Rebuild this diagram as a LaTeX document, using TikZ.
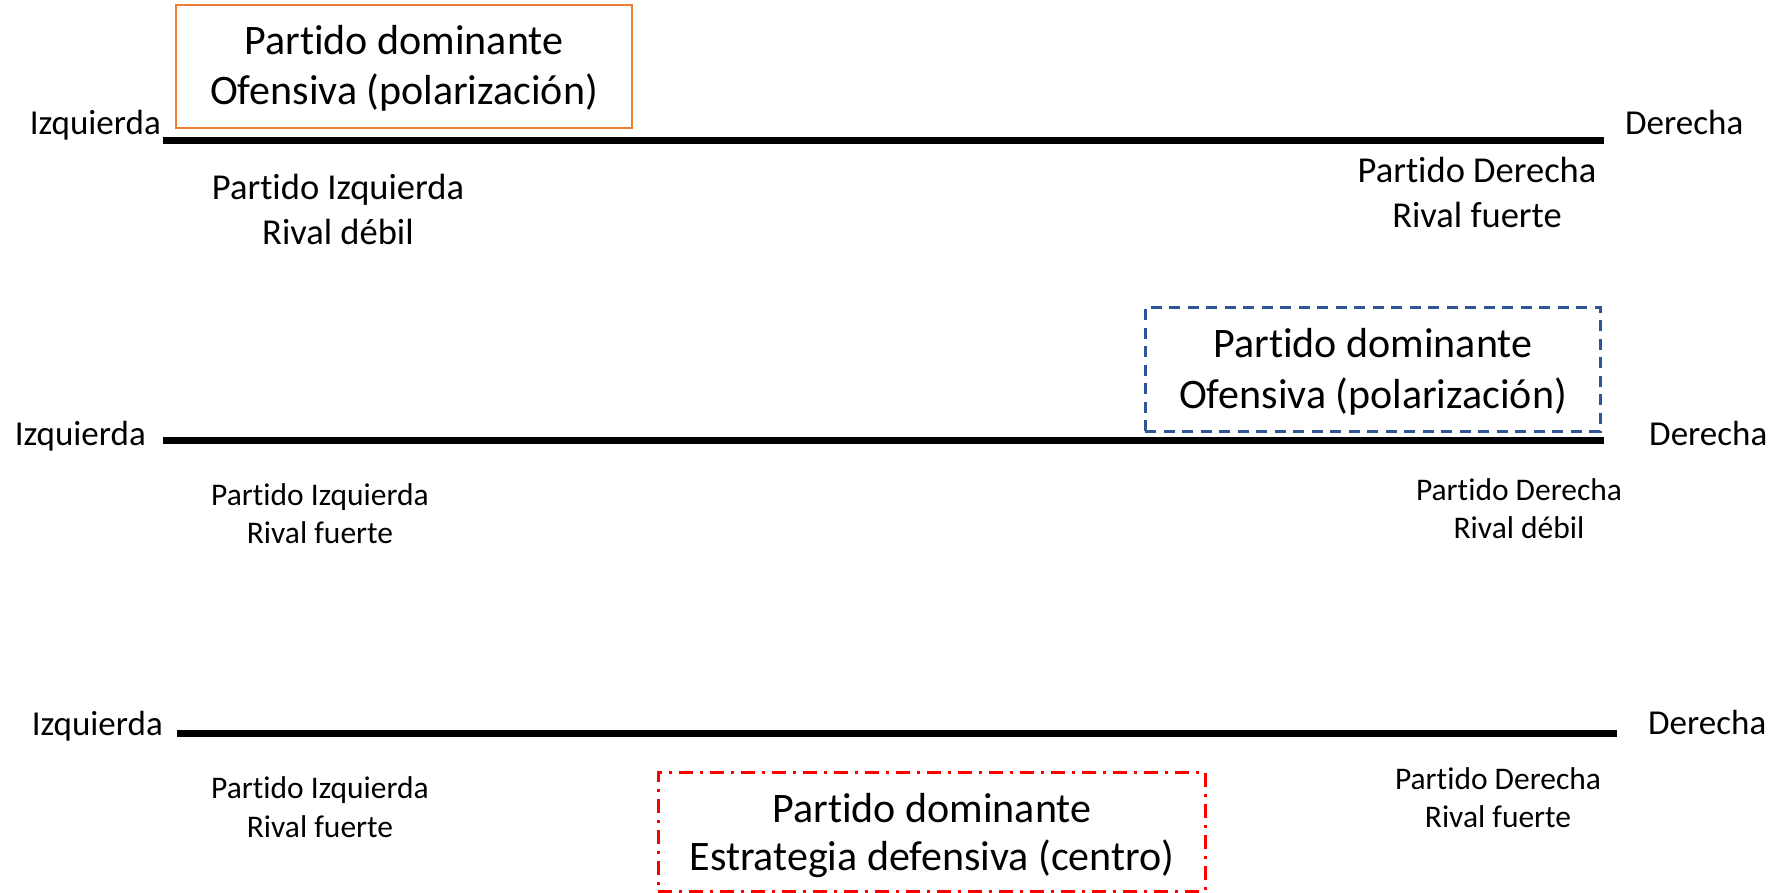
\documentclass[tikz,border=0pt]{standalone}
\usepackage{fontspec}
\setmainfont{Carlito}[Ligatures=NoCommon]
\definecolor{boxorange}{RGB}{237,125,49}
\definecolor{boxblue}{RGB}{47,85,151}
\definecolor{boxred}{RGB}{255,0,0}
\begin{document}
\begin{tikzpicture}[x=1pt,y=-1pt,
  txt/.style={inner sep=0pt, anchor=base},
  big/.style={txt, font=\fontsize{42}{50}\selectfont},
  side/.style={inner sep=0pt, font=\fontsize{35}{42}\selectfont},
  labA/.style={txt, font=\fontsize{36.5}{44}\selectfont},
  labB/.style={txt, font=\fontsize{31.5}{38}\selectfont},
  axisline/.style={line width=7pt, black},
  obox/.style={draw=boxorange, line width=2pt, inner sep=0pt},
  bbox/.style={draw=boxblue, line width=3pt, dash pattern=on 11pt off 7.5pt, inner sep=0pt},
  rbox/.style={draw=boxred, line width=3pt, dash pattern=on 14pt off 7pt on 3pt off 7pt, inner sep=0pt}
]
\useasboundingbox (0,0) rectangle (1787,893);

% ---------- Row 1 ----------
\coordinate (l1a) at (163,140.5);
\coordinate (l1b) at (1604,140.5);
\draw[axisline] (l1a) -- (l1b);
\node[side, anchor=base east] (izq1) at (161,135) {Izquierda};
\node[side, anchor=base west] (der1) at (1625,135) {Derecha};
\node[obox, minimum width=456, minimum height=123] (box1) at (404,66.5) {};
\node[big] (b1t1) at (404,55) {Partido dominante};
\node[big] (b1t2) at (404,105) {Ofensiva (polarización)};
\node[labA] (p1l1) at (338,200) {Partido Izquierda};
\node[labA] (p1l2) at (338,245) {Rival débil};
\node[labA] (p1r1) at (1477,183) {Partido Derecha};
\node[labA] (p1r2) at (1477,228) {Rival fuerte};

% ---------- Row 2 ----------
\coordinate (l2a) at (163,440.5);
\coordinate (l2b) at (1604,440.5);
\draw[axisline] (l2a) -- (l2b);
\node[side, anchor=base east] (izq2) at (146,445) {Izquierda};
\node[side, anchor=base west] (der2) at (1649,445) {Derecha};
\node[bbox, minimum width=455, minimum height=124] (box2) at (1372.5,369) {};
\node[big] (b2t1) at (1373,357) {Partido dominante};
\node[big] (b2t2) at (1373,408) {Ofensiva (polarización)};
\node[labB] (p2l1) at (320,505) {Partido Izquierda};
\node[labB] (p2l2) at (320,543) {Rival fuerte};
\node[labB] (p2r1) at (1519,500) {Partido Derecha};
\node[labB] (p2r2) at (1519,538) {Rival débil};

% ---------- Row 3 ----------
\coordinate (l3a) at (177,733);
\coordinate (l3b) at (1617,733);
\draw[axisline] (l3a) -- (l3b);
\node[side, anchor=base east] (izq3) at (163,735) {Izquierda};
\node[side, anchor=base west] (der3) at (1648,734) {Derecha};
\node[rbox, minimum width=547, minimum height=119] (box3) at (931.5,831.5) {};
\node[big] (b3t1) at (932,822) {Partido dominante};
\node[big] (b3t2) at (932,870) {Estrategia defensiva (centro)};
\node[labB] (p3l1) at (320,798) {Partido Izquierda};
\node[labB] (p3l2) at (320,837) {Rival fuerte};
\node[labB] (p3r1) at (1498,789) {Partido Derecha};
\node[labB] (p3r2) at (1498,827) {Rival fuerte};
\end{tikzpicture}
\end{document}
